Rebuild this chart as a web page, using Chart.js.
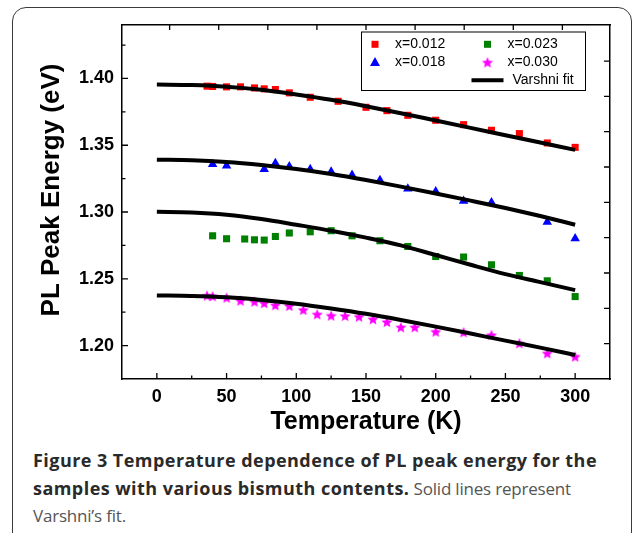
<!DOCTYPE html>
<html>
<head>
<meta charset="utf-8">
<script src="https://cdn.jsdelivr.net/npm/chart.js@4.4.0/dist/chart.umd.min.js"></script>
<style>
  html, body { margin: 0; padding: 0; background: #fff; width: 634px; height: 533px; overflow: hidden; }
  #frame { position: absolute; left: 12px; top: 7px; width: 620px; height: 545px; box-sizing: border-box;
           border: 1.5px solid #3a3a3a; border-radius: 14px; }
  #chart { position: absolute; left: 0; top: 0; }
  #caption { position: absolute; left: 33px; top: 447px; font-family: "Open Sans", sans-serif; font-size: 17px;
             line-height: 27.6px; color: #555; white-space: nowrap; letter-spacing: -0.2px; }
  #caption b { color: #2a2a2a; font-size: 18px; letter-spacing: 0.45px; }
</style>
</head>
<body>
<div id="frame"></div>
<canvas id="chart" width="634" height="440"></canvas>
<div id="caption"><b>Figure 3 Temperature dependence of PL peak energy for the<br>samples with various bismuth contents.</b> Solid lines represent<br>Varshni’s fit.</div>
<script>
// measured PL peak positions (K, eV)
const tempRed = [36, 40, 50, 60, 70, 77, 85, 95, 110, 130, 150, 165, 180, 200, 220, 240, 260, 280, 300];
const energyRed = [1.3942, 1.3940, 1.3937, 1.3937, 1.3929, 1.3922, 1.3917, 1.3892, 1.3859, 1.3829, 1.3784, 1.3759, 1.3724, 1.3687, 1.3654, 1.3612, 1.3587, 1.3517, 1.3484];

const tempBlue = [40, 50, 77, 85, 95, 110, 125, 140, 160, 180, 200, 220, 240, 280, 300];
const energyBlue = [1.3358, 1.3346, 1.3321, 1.3366, 1.3340, 1.3321, 1.3301, 1.3278, 1.3238, 1.3175, 1.3153, 1.3083, 1.3071, 1.2926, 1.2801];

const tempGreen = [40, 50, 63, 70, 77, 85, 95, 110, 125, 140, 160, 180, 200, 220, 240, 260, 280, 300];
const energyGreen = [1.2822, 1.2800, 1.2798, 1.2792, 1.2790, 1.2817, 1.2843, 1.2852, 1.2860, 1.2822, 1.2785, 1.2742, 1.2667, 1.2663, 1.2605, 1.2525, 1.2485, 1.2367];

const tempMagenta = [36, 40, 50, 60, 70, 77, 85, 95, 105, 115, 125, 135, 145, 155, 165, 175, 185, 200, 220, 240, 260, 280, 300];
const energyMagenta = [1.2375, 1.2370, 1.2360, 1.2337, 1.2330, 1.2318, 1.2303, 1.2298, 1.2268, 1.2235, 1.2225, 1.2223, 1.2217, 1.2198, 1.2178, 1.2138, 1.2138, 1.2105, 1.2100, 1.2080, 1.2018, 1.1943, 1.1918];

// Varshni fit curves, sampled every 25 K
const fitTemp = [0, 25, 50, 75, 100, 125, 150, 175, 200, 225, 250, 275, 300];
const fitRed = [1.3954, 1.3950, 1.3938, 1.3915, 1.3880, 1.3840, 1.3792, 1.3740, 1.3685, 1.3630, 1.3575, 1.3520, 1.3465];
const fitBlue = [1.3392, 1.3388, 1.3375, 1.3352, 1.3322, 1.3285, 1.3240, 1.3190, 1.3138, 1.3085, 1.3030, 1.2970, 1.2905];
const fitGreen = [1.3002, 1.2997, 1.2980, 1.2948, 1.2905, 1.2860, 1.2808, 1.2750, 1.2678, 1.2605, 1.2535, 1.2475, 1.2415];
const fitMagenta = [1.2375, 1.2372, 1.2362, 1.2342, 1.2314, 1.2278, 1.2238, 1.2192, 1.2142, 1.2090, 1.2037, 1.1985, 1.1930];

// axis ticks
const tempTicks = [0, 50, 100, 150, 200, 250, 300];
const tempMinor = [25, 75, 125, 175, 225, 275];
const energyTicks = [1.20, 1.25, 1.30, 1.35, 1.40];
const energyMinor = [1.225, 1.275, 1.325, 1.375, 1.425];
const topTicks = [1, 2, 3, 4, 5, 6, 7, 8, 9];
const rightTicks = [1, 2, 3, 4, 5, 6, 7, 8, 9];

const pts = (xs, ys) => xs.map((x, i) => ({ x: x, y: ys[i] }));

function starImage(color, outer) {
  const inner = outer * 0.45;
  const size = Math.ceil(outer * 2 + 2);
  const c = document.createElement('canvas');
  c.width = c.height = size;
  const g = c.getContext('2d');
  g.translate(size / 2, size / 2 + outer * 0.1);
  g.beginPath();
  for (let i = 0; i < 10; i++) {
    const r = i % 2 ? inner : outer;
    const a = -Math.PI / 2 + i * Math.PI / 5;
    g.lineTo(r * Math.cos(a), r * Math.sin(a));
  }
  g.closePath();
  g.fillStyle = color;
  g.fill();
  return c;
}
const star = starImage('#ff00ff', 5.8);

const FONT = '"Liberation Sans", Arial, Helvetica, sans-serif';

function markers(label, xs, ys, color, style, radius) {
  return {
    label: label, data: pts(xs, ys), order: 1,
    pointStyle: style, pointRadius: radius,
    backgroundColor: color, borderColor: color, pointBorderWidth: 0
  };
}
function fit(ys) {
  return {
    label: 'Varshni fit', data: pts(fitTemp, ys), order: 0,
    showLine: true, pointRadius: 0, borderColor: '#000', borderWidth: 4,
    cubicInterpolationMode: 'monotone'
  };
}

// inward tick marks, y title and the boxed legend
const frameDecor = {
  id: 'frameDecor',
  afterDraw(chart) {
    const { ctx, chartArea: a, scales } = chart;
    ctx.save();
    ctx.strokeStyle = '#000';
    ctx.lineWidth = 1.3;
    ctx.beginPath();
    const vTick = (px, y0, len) => { ctx.moveTo(px, y0); ctx.lineTo(px, y0 + len); };
    const hTick = (py, x0, len) => { ctx.moveTo(x0, py); ctx.lineTo(x0 + len, py); };
    tempTicks.forEach(v => vTick(scales.x.getPixelForValue(v), a.bottom, -6));
    tempMinor.forEach(v => vTick(scales.x.getPixelForValue(v), a.bottom, -3.5));
    energyTicks.forEach(v => hTick(scales.y.getPixelForValue(v), a.left, 6));
    energyMinor.forEach(v => hTick(scales.y.getPixelForValue(v), a.left, 3.5));
    topTicks.forEach(v => vTick(scales.x2.getPixelForValue(v), a.top, 5));
    rightTicks.forEach(v => hTick(scales.y2.getPixelForValue(v), a.right, -6));
    ctx.stroke();

    // y axis title
    ctx.save();
    ctx.translate(52, 190);
    ctx.rotate(-Math.PI / 2);
    ctx.font = 'bold 26px ' + FONT;
    ctx.fillStyle = '#000';
    ctx.textAlign = 'center';
    ctx.textBaseline = 'middle';
    ctx.fillText('PL Peak Energy (eV)', 0, 0);
    ctx.restore();

    // legend
    ctx.lineWidth = 1;
    ctx.strokeRect(361.5, 32, 224, 58.5);
    ctx.fillStyle = '#ff0000';
    ctx.fillRect(371.5, 40.8, 7, 7);
    ctx.fillStyle = '#008000';
    ctx.fillRect(484, 40.8, 7, 7);
    ctx.fillStyle = '#0000ff';
    ctx.beginPath();
    ctx.moveTo(375, 57); ctx.lineTo(380, 66); ctx.lineTo(370, 66); ctx.closePath();
    ctx.fill();
    ctx.drawImage(star, 487.5 - star.width / 2, 62.3 - star.height / 2);
    ctx.lineWidth = 4;
    ctx.beginPath();
    ctx.moveTo(471.5, 80.3); ctx.lineTo(503.5, 80.3);
    ctx.stroke();
    ctx.fillStyle = '#000';
    ctx.font = '14px ' + FONT;
    ctx.textBaseline = 'middle';
    ctx.textAlign = 'left';
    ctx.fillText('x=0.012', 395, 44.5);
    ctx.fillText('x=0.018', 395, 62.5);
    ctx.fillText('x=0.023', 507.5, 44.5);
    ctx.fillText('x=0.030', 507.5, 62.5);
    ctx.fillText('Varshni fit', 512.5, 80.5);
    ctx.restore();
  }
};

const tickFont = { family: FONT, size: 18, weight: 'bold' };
const borderOpts = { display: true, color: '#000', width: 1.5 };

new Chart(document.getElementById('chart'), {
  type: 'scatter',
  data: {
    datasets: [
      fit(fitRed), fit(fitBlue), fit(fitGreen), fit(fitMagenta),
      markers('x=0.012', tempRed, energyRed, '#ff0000', 'rect', 5),
      markers('x=0.018', tempBlue, energyBlue, '#0000ff', 'triangle', 5.5),
      markers('x=0.023', tempGreen, energyGreen, '#008000', 'rect', 5),
      markers('x=0.030', tempMagenta, energyMagenta, '#ff00ff', star, 6)
    ]
  },
  options: {
    responsive: false,
    animation: false,
    layout: { padding: 0 },
    plugins: { legend: { display: false }, tooltip: { enabled: false } },
    scales: {
      x: {
        type: 'linear', position: 'bottom', min: -25, max: 325,
        afterBuildTicks: s => { s.ticks = tempTicks.map(v => ({ value: v })); },
        afterFit: s => { s.height = 61; },
        grid: { display: false, drawTicks: false },
        border: borderOpts,
        ticks: { font: tickFont, color: '#000', padding: 7, maxRotation: 0 },
        title: { display: true, text: 'Temperature (K)', color: '#000',
                 font: { family: FONT, size: 25, weight: 'bold' }, padding: { top: 0, bottom: 3 } }
      },
      y: {
        type: 'linear', position: 'left', min: 1.175, max: 1.44,
        afterBuildTicks: s => { s.ticks = energyTicks.map(v => ({ value: v })); },
        afterFit: s => { s.width = 122; },
        grid: { display: false, drawTicks: false },
        border: borderOpts,
        ticks: { font: tickFont, color: '#000', padding: 8, callback: v => v.toFixed(2) }
      },
      x2: {
        type: 'linear', position: 'top', min: 0.03, max: 9.97,
        afterBuildTicks: s => { s.ticks = topTicks.map(v => ({ value: v })); },
        afterFit: s => { s.height = 25; },
        grid: { display: false, drawTicks: false },
        border: borderOpts,
        ticks: { display: false }
      },
      y2: {
        type: 'linear', position: 'right', min: 0, max: 10.02,
        afterBuildTicks: s => { s.ticks = rightTicks.map(v => ({ value: v })); },
        afterFit: s => { s.width = 24; },
        grid: { display: false, drawTicks: false },
        border: borderOpts,
        ticks: { display: false }
      }
    }
  },
  plugins: [frameDecor]
});
</script>
</body>
</html>
